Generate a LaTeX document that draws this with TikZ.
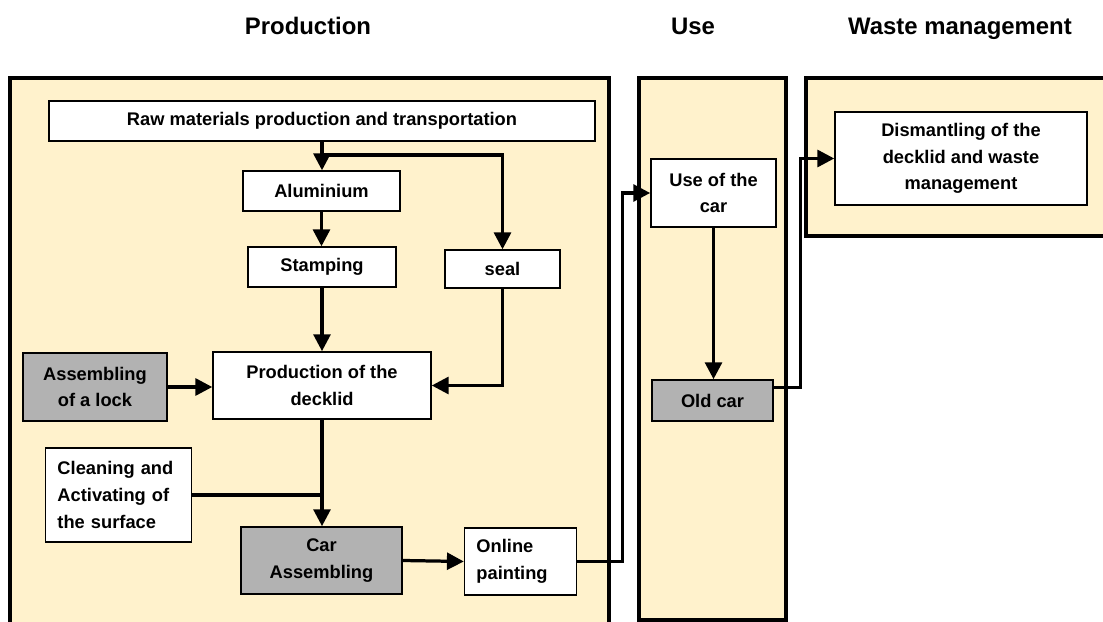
\documentclass[tikz,border=0pt]{standalone}
\usepackage{fontspec}
\setmainfont{Liberation Sans}
\usetikzlibrary{arrows.meta}

\definecolor{panelyellow}{RGB}{255,242,204}
\definecolor{boxgray}{RGB}{178,178,178}

\begin{document}
\begin{tikzpicture}[x=0.025cm, y=-0.025cm,
    panel/.style={draw, line width=2.4pt, fill=panelyellow},
    stage/.style={draw, rectangle, line width=1pt, fill=white, align=center,
        inner sep=2pt, font=\bfseries\fontsize{13}{19}\selectfont},
    grey/.style={stage, fill=boxgray},
    flow/.style={line width=2.3pt, -{Triangle[length=12pt, width=12pt]}},
    heading/.style={anchor=base, font=\bfseries\fontsize{17}{20}\selectfont}]
    \useasboundingbox (0,0) rectangle (1103,622);

    % Headings
    \node[heading] (hprod) at (308,35) {Production};
    \node[heading] (huse) at (693,35) {Use};
    \node[heading] (hwaste) at (960,35) {Waste management};

    % Phase panels
    \draw[panel] (10,78) rectangle (609,640);
    \draw[panel] (639,78) rectangle (786,620);
    \draw[panel] (806,78) rectangle (1120,236);

    % Production
    \node[stage, minimum width=13.65cm, minimum height=1cm] (raw) at (322,121)
        {Raw materials production and transportation};
    \node[stage, minimum width=3.93cm, minimum height=1cm] (alu) at (321.5,191) {Aluminium};
    \node[stage, minimum width=3.7cm, minimum height=1cm] (stamp) at (322,267) {Stamping};
    \node[stage, minimum width=2.88cm, minimum height=0.95cm] (seal) at (502.5,269) {seal};
    \node[stage, minimum width=5.45cm, minimum height=1.68cm] (deck) at (322,385.5)
        {Production of the\\decklid};
    \node[grey, minimum width=3.6cm, minimum height=1.7cm] (lock) at (95,387)
        {Assembling\\of a lock};
    \node[stage, align=left, text width=3.05cm, minimum height=2.35cm, inner xsep=0.3cm] (clean) at (118.5,495)
        {Cleaning and\\Activating of\\the surface};
    \node[grey, minimum width=4.03cm, minimum height=1.68cm] (carasm) at (321.5,560.5)
        {Car\\Assembling};
    \node[stage, align=left, text width=2.2cm, minimum height=1.68cm, inner xsep=0.3cm] (paint) at (520.5,561.5)
        {Online\\painting};

    % Use
    \node[stage, minimum width=3.13cm, minimum height=1.7cm] (usecar) at (713.5,193)
        {Use of the\\car};
    \node[grey, minimum width=3.03cm, minimum height=1.03cm] (oldcar) at (712.5,400.5) {Old car};

    % Waste management
    \node[stage, minimum width=6.3cm, minimum height=2.33cm] (dism) at (961,158.5)
        {Dismantling of the\\decklid and waste\\management};

    % Flows
    \coordinate (split) at (322,155);
    \draw[flow] (raw.south) -- (raw.south |- alu.north);
    \draw[flow] (split) -| (seal.north);
    \draw[flow] (alu.south) -- (alu.south |- stamp.north);
    \draw[flow] (stamp.south) -- (stamp.south |- deck.north);
    \draw[flow] (seal.south) |- (deck.east);
    \draw[flow] (lock.east) -- (lock.east -| deck.west);
    \draw[flow] (deck.south) -- (deck.south |- carasm.north);
    \draw[line width=2.3pt] (clean.east) -- (clean.east -| deck.south);
    \draw[flow] (carasm.east) -- (paint.west);
    \draw[flow] (paint.east) -- ++(45,0) |- (usecar.west);
    \draw[flow] (usecar.south) -- (usecar.south |- oldcar.north);
    \draw[flow] ([yshift=9pt]oldcar.east) -- ++(27,0) |- (dism.west);
\end{tikzpicture}
\end{document}
